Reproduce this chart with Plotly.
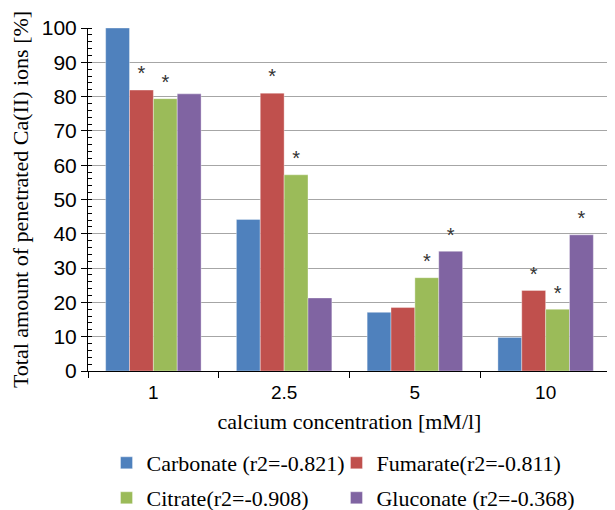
import plotly.graph_objects as go

categories = ["1", "2.5", "5", "10"]
carbonate = [100, 44.2, 17.1, 9.8]
fumarate = [81.9, 81.0, 18.5, 23.5]
citrate = [79.4, 57.2, 27.2, 18.0]
gluconate = [80.8, 21.3, 34.9, 39.7]

carbonate_sig = [False, False, False, False]
fumarate_sig = [True, True, False, True]
citrate_sig = [True, True, True, True]
gluconate_sig = [False, False, True, True]

names = ["Carbonate (r2=-0.821)", "Fumarate(r2=-0.811)",
         "Citrate(r2=-0.908)", "Gluconate (r2=-0.368)"]
colors = ["#4F81BD", "#C0504D", "#9BBB59", "#8064A2"]
legend_ids = ["legend", "legend2", "legend3", "legend4"]
series = [carbonate, fumarate, citrate, gluconate]
sigs = [carbonate_sig, fumarate_sig, citrate_sig, gluconate_sig]

STAR_OFFSET = 4.3

fig = go.Figure()
for i, (name, col, vals, lg) in enumerate(zip(names, colors, series, legend_ids)):
    fig.add_trace(go.Bar(
        x=categories, y=vals, name=name, offsetgroup=str(i), legend=lg,
        marker=dict(color=col, line=dict(color="rgba(255,255,255,0.6)", width=0.6)),
    ))
for i, (vals, sig) in enumerate(zip(series, sigs)):
    xs = [c for c, s in zip(categories, sig) if s]
    ys = [v + STAR_OFFSET for v, s in zip(vals, sig) if s]
    fig.add_trace(go.Scatter(
        x=xs, y=ys, mode="text", text=["*"] * len(xs), offsetgroup=str(i),
        textposition="middle center", showlegend=False, hoverinfo="skip",
        textfont=dict(family="Liberation Sans, Arial", size=20, color="#333333"),
    ))

legend_common = dict(
    orientation="h", xanchor="left", yanchor="middle",
    xref="container", yref="container",
    font=dict(family="Liberation Serif, Times New Roman", size=22, color="black"),
    itemwidth=30, borderwidth=0, bgcolor="rgba(0,0,0,0)",
)
col_x = [0.1602, 0.5341]
row_y = [0.1078, 0.0392]

fig.update_layout(
    width=615, height=510,
    margin=dict(l=80, r=12, t=20, b=147),
    barmode="group", scattermode="group", bargap=0.27, bargroupgap=0,
    plot_bgcolor="white", paper_bgcolor="white",
    font=dict(family="Liberation Sans, Arial", size=16, color="black"),
    legend=dict(x=col_x[0], y=row_y[0], **legend_common),
    legend2=dict(x=col_x[1], y=row_y[0], **legend_common),
    legend3=dict(x=col_x[0], y=row_y[1], **legend_common),
    legend4=dict(x=col_x[1], y=row_y[1], **legend_common),
    showlegend=True,
)
fig.update_xaxes(
    type="category", showline=True, linecolor="black", linewidth=1,
    ticks="outside", ticklen=6, tickcolor="black", tickson="boundaries",
    showgrid=False, automargin=False, ticklabelstandoff=4,
    tickfont=dict(family="Liberation Sans, Arial", size=19),
    title=dict(text="calcium concentration [mM/l]", standoff=11,
               font=dict(family="Liberation Serif, Times New Roman", size=22)),
)
fig.update_yaxes(
    range=[0, 100], dtick=10, showline=True, linecolor="black", linewidth=1,
    ticks="outside", ticklen=6, tickcolor="black",
    minor=dict(dtick=2, ticks="inside", ticklen=4, tickcolor="black", showgrid=False),
    showgrid=True, gridcolor="#A6A6A6", gridwidth=1, zeroline=False,
    automargin=False,
    tickfont=dict(family="Liberation Sans, Arial", size=21),
    title=dict(text="Total amount of penetrated Ca(II) ions [%]", standoff=12,
               font=dict(family="Liberation Serif, Times New Roman", size=22)),
)

fig.write_html("out.html")
